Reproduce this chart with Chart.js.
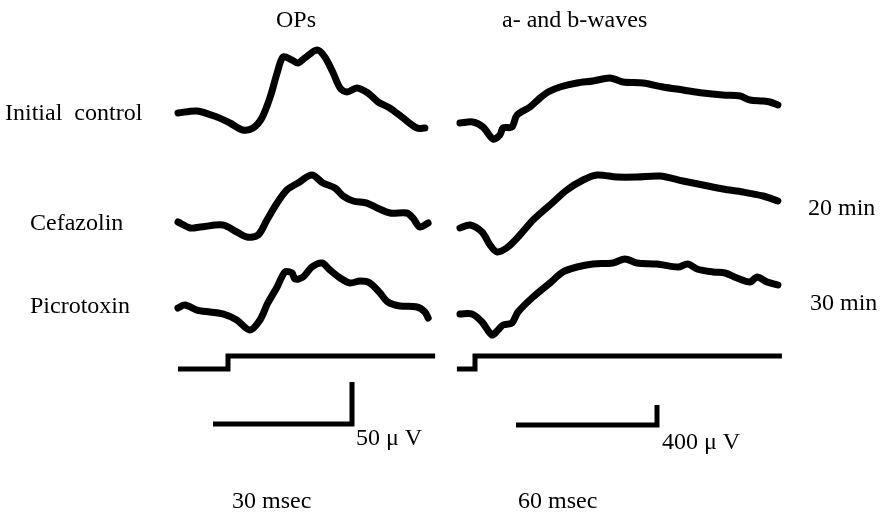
<!DOCTYPE html>
<html>
<head>
<meta charset="utf-8">
<script src="https://cdn.jsdelivr.net/npm/chart.js@4/dist/chart.umd.min.js"></script>
<style>
  html, body { margin: 0; padding: 0; background: #fff; }
  #wrap { position: relative; width: 890px; height: 516px; }
  #chart { position: absolute; left: 0; top: 0; }
  .lbl { position: absolute; font-family: "Liberation Serif", "DejaVu Serif", serif; font-size: 24px; color: #000; white-space: pre; line-height: 1; }
</style>
</head>
<body>
<div id="wrap">
  <canvas id="chart" width="890" height="516"></canvas>
  <div class="lbl" style="left:276px; top:7px;">OPs</div>
  <div class="lbl" style="left:502px; top:7px;">a- and b-waves</div>
  <div class="lbl" style="left:5px; top:100px;">Initial  control</div>
  <div class="lbl" style="left:30px; top:210px;">Cefazolin</div>
  <div class="lbl" style="left:30px; top:293px;">Picrotoxin</div>
  <div class="lbl" style="left:808px; top:195px;">20 min</div>
  <div class="lbl" style="left:810px; top:290px;">30 min</div>
  <div class="lbl" style="left:356px; top:425px;">50 &#956; V</div>
  <div class="lbl" style="left:662px; top:429px;">400 &#956; V</div>
  <div class="lbl" style="left:232px; top:488px;">30 msec</div>
  <div class="lbl" style="left:518px; top:488px;">60 msec</div>
</div>
<script>
// OPs traces: time (ms from flash) and amplitude (µV from start level)
const opTime1 = [-10.8, -6.7, -2.4, 0.4, 3.2, 5.4, 7.3, 9.1, 10.6, 11.9, 13.8, 15.1, 16.6, 19.2, 20.9, 22.7, 24.2, 25.7, 27.8, 30.2, 32.4, 34.9, 37.8, 40.8, 42.5];
const opInitial = [0, 2.4, -4.8, -11.9, -20.2, -17.9, -6, 19, 47.6, 66.7, 63.1, 59.5, 65.5, 75, 66.7, 47.6, 29.8, 25, 29.8, 23.8, 13.1, 6, -6, -17.9, -17.9];

const opTime2 = [-10.8, -8.2, -6.0, -1.1, 1.9, 4.1, 6.5, 8.4, 10.6, 12.7, 15.1, 18.1, 20.5, 23.1, 24.8, 27.0, 30.0, 32.2, 35.0, 38.6, 39.9, 41.4, 43.2];
const opCefazolin = [0, -7.1, -6.0, -3.6, -11.9, -17.9, -15.5, 2.4, 22.6, 38.1, 46.4, 56.0, 46.4, 40.5, 31.0, 25.0, 22.6, 16.7, 10.7, 10.7, 4.8, -6.0, -1.2];

const opTime3 = [-10.8, -9.3, -6.7, -3.9, -1.1, 1.9, 4.7, 6.9, 8.6, 10.6, 12.3, 13.8, 14.5, 16.2, 18.1, 20.3, 22.0, 24.2, 26.3, 28.5, 30.6, 32.8, 34.5, 37.1, 40.8, 42.5, 43.2];
const opPicrotoxin = [0, 3.6, -2.4, -4.8, -7.1, -14.3, -26.2, -14.3, 6.0, 25.0, 42.9, 41.7, 34.5, 36.9, 48.8, 53.6, 45.2, 35.7, 29.8, 32.1, 29.8, 17.9, 7.1, 2.4, 1.2, -4.8, -11.9];

// a- and b-wave traces
const abTime1 = [-6.4, -0.9, 3.4, 7.7, 10.6, 11.9, 15.7, 17.9, 23.4, 27.7, 31.1, 36.2, 43.4, 50.2, 57.4, 63.0, 71.5, 80.0, 88.5, 97.0, 105.5, 112.8, 117.0, 122.6, 125.5, 128.9];
const abInitial = [0, 20, -80, -320, -240, -100, -80, 160, 320, 500, 620, 720, 800, 840, 900, 820, 800, 720, 660, 600, 560, 540, 460, 440, 420, 360];

const abTime2 = [-6.4, -2.1, 3.0, 6.4, 9.4, 14.0, 19.1, 24.7, 31.9, 39.1, 46.0, 51.9, 60.4, 68.9, 78.7, 88.5, 97.0, 105.5, 114.0, 122.6, 128.9];
const abCefazolin = [0, 60, -80, -340, -480, -380, -140, 160, 460, 760, 960, 1060, 1020, 1020, 1040, 940, 860, 780, 720, 640, 540];

const abTime3 = [-6.4, -1.3, 3.0, 7.2, 9.8, 11.9, 15.7, 18.3, 24.7, 31.9, 37.4, 43.4, 50.2, 58.7, 63.8, 68.9, 77.4, 86.4, 90.6, 94.5, 101.3, 106.4, 111.5, 117.0, 120.0, 124.3, 128.9];
const abPicrotoxin = [0, 0, -160, -420, -320, -220, -180, 40, 340, 620, 840, 940, 1000, 1020, 1100, 1020, 1000, 940, 1000, 900, 840, 820, 720, 640, 740, 640, 580];

// flash marker (0 = off, 1 = on)
const opStimTime = [-10.8, 0, 0, 44.7];
const abStimTime = [-7.7, 0, 0, 130.6];
const stimLevel = [0, 0, 1, 1];

// calibration bars
const opBar = { ms: 30, uv: 50 };
const abBar = { ms: 60, uv: 400 };

// panel layout
const opPanel = { x0: 228, pxPerMs: 4.633, pxPerUv: 0.84, rows: [113, 222, 308], stimY: 369, barCorner: [352, 424] };
const abPanel = { x0: 475, pxPerMs: 2.35, pxPerUv: 0.05, rows: [123, 228, 314], stimY: 369, barCorner: [657, 425] };
const stimStepPx = 13;

function toPts(times, values, panel, base) {
  return times.map((t, i) => ({ x: panel.x0 + t * panel.pxPerMs, y: base - values[i] * panel.pxPerUv }));
}
function stimPts(times, panel) {
  return times.map((t, i) => ({ x: panel.x0 + t * panel.pxPerMs, y: panel.stimY - stimLevel[i] * stimStepPx }));
}
function barPts(bar, panel) {
  const [cx, cy] = panel.barCorner;
  return [
    { x: cx - bar.ms * panel.pxPerMs, y: cy },
    { x: cx, y: cy },
    { x: cx, y: cy - bar.uv * panel.pxPerUv }
  ];
}

function trace(data) {
  return { data, borderColor: '#000', borderWidth: 7, tension: 0.3, pointRadius: 0, borderCapStyle: 'round', borderJoinStyle: 'round', fill: false };
}
function plain(data, w) {
  return { data, borderColor: '#000', borderWidth: w, tension: 0, pointRadius: 0, borderCapStyle: 'butt', borderJoinStyle: 'miter', fill: false };
}

const datasets = [
  trace(toPts(opTime1, opInitial, opPanel, opPanel.rows[0])),
  trace(toPts(opTime2, opCefazolin, opPanel, opPanel.rows[1])),
  trace(toPts(opTime3, opPicrotoxin, opPanel, opPanel.rows[2])),
  trace(toPts(abTime1, abInitial, abPanel, abPanel.rows[0])),
  trace(toPts(abTime2, abCefazolin, abPanel, abPanel.rows[1])),
  trace(toPts(abTime3, abPicrotoxin, abPanel, abPanel.rows[2])),
  plain(stimPts(opStimTime, opPanel), 5),
  plain(stimPts(abStimTime, abPanel), 5),
  plain(barPts(opBar, opPanel), 5),
  plain(barPts(abBar, abPanel), 5)
];

new Chart(document.getElementById('chart'), {
  type: 'scatter',
  data: { datasets: datasets.map(d => ({ ...d, showLine: true })) },
  options: {
    responsive: false,
    animation: false,
    layout: { padding: 0 },
    plugins: { legend: { display: false }, tooltip: { enabled: false } },
    scales: {
      x: { type: 'linear', min: 0, max: 890, display: false },
      y: { type: 'linear', min: 0, max: 516, reverse: true, display: false }
    }
  }
});
</script>
</body>
</html>
